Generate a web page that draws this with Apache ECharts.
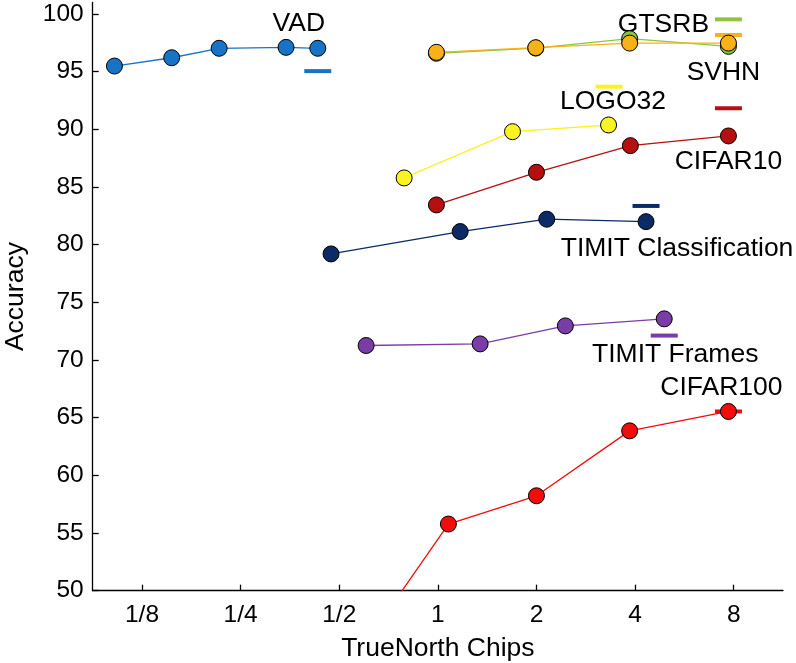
<!DOCTYPE html>
<html>
<head>
<meta charset="utf-8">
<script src="https://cdn.jsdelivr.net/npm/echarts@6/dist/echarts.min.js"></script>
<style>html,body{margin:0;padding:0;background:#fff}#c{width:796px;height:663px}</style>
</head>
<body>
<div id="c"></div>
<script>
// ---- data (TrueNorth chips, accuracy %) ----
const xTicks = [1/8, 1/4, 1/2, 1, 2, 4, 8];
const yTicks = [50, 55, 60, 65, 70, 75, 80, 85, 90, 95, 100];

const seriesNames = ['VAD', 'GTSRB', 'SVHN', 'LOGO32', 'CIFAR10', 'TIMIT Classification', 'TIMIT Frames', 'CIFAR100'];

const chipsVAD = [0.103, 0.154, 0.215, 0.344, 0.43];
const accVAD   = [95.49, 96.21, 97.03, 97.11, 97.03];

const chipsGTSRB = [0.99, 1.99, 3.85, 7.71];
const accGTSRB   = [96.60, 97.05, 97.86, 97.20];

const chipsSVHN = [0.99, 1.99, 3.85, 7.71];
const accSVHN   = [96.68, 97.08, 97.48, 97.48];

const chipsLOGO32 = [0.789, 1.69, 3.32];
const accLOGO32   = [85.79, 89.80, 90.38];

const chipsCIFAR10 = [0.99, 2.0, 3.87, 7.71];
const accCIFAR10   = [83.45, 86.28, 88.59, 89.43];

const chipsTIMITC = [0.472, 1.17, 2.15, 4.32];
const accTIMITC   = [79.2, 81.14, 82.21, 82.0];

const chipsTIMITF = [0.604, 1.346, 2.45, 4.91];
const accTIMITF   = [71.26, 71.40, 72.96, 73.57];

const chipsCIFAR100 = [0.6, 1.077, 2.0, 3.85, 7.71];
const accCIFAR100   = [45.4, 55.78, 58.23, 63.86, 65.54];

// reference (state of the art) accuracy dashes
const refChips = [0.43, 7.71, 7.71, 3.33, 7.71, 4.32, 4.91, 7.71];
const refAcc   = [95.05, 99.54, 98.18, 93.70, 91.83, 83.36, 72.12, 65.54];

// ---- styles ----
const colors = ['#1873c4', '#8cc640', '#f8b119', '#faf323', '#b5100f', '#0b2a66', '#7a3ca6', '#f20c0c'];
const labelOffsets = [[-19, -47], [-65, 5], [-5, 38], [4, 15], [0, 53], [31, 43], [11, 19], [-7, -24]];

const chipsAll = [chipsVAD, chipsGTSRB, chipsSVHN, chipsLOGO32, chipsCIFAR10, chipsTIMITC, chipsTIMITF, chipsCIFAR100];
const accAll = [accVAD, accGTSRB, accSVHN, accLOGO32, accCIFAR10, accTIMITC, accTIMITF, accCIFAR100];

const FONT = '"Liberation Sans", Arial, Helvetica, sans-serif';
const lg = v => Math.log2(v);

const series = [];
// reference dashes with labels (drawn under the lines)
seriesNames.forEach((n, i) => {
  series.push({
    type: 'scatter',
    name: n + ' ref',
    z: 1,
    symbol: 'rect',
    symbolSize: [27, 4],
    itemStyle: { color: colors[i], opacity: 1 },
    silent: true,
    data: [[lg(refChips[i]), refAcc[i]]],
    label: {
      show: true,
      position: 'inside',
      offset: labelOffsets[i],
      formatter: n,
      color: '#000',
      textBorderWidth: 0,
      fontFamily: FONT,
      fontSize: 26.5
    }
  });
});
seriesNames.forEach((n, i) => {
  series.push({
    type: 'line',
    name: n,
    z: 2 + i,
    clip: true,
    symbol: 'circle',
    symbolSize: 16,
    showAllSymbol: true,
    lineStyle: { color: colors[i], width: 1.3 },
    itemStyle: { color: colors[i], borderColor: '#000', borderWidth: 1, opacity: 1 },
    data: chipsAll[i].map((c, k) => [lg(c), accAll[i][k]])
  });
});

const fracLabel = v => {
  const p = Math.round(v);
  return p < 0 ? '1/' + Math.pow(2, -p) : String(Math.pow(2, p));
};

const chart = echarts.init(document.getElementById('c'), null, { renderer: 'canvas' });
chart.setOption({
  animation: false,
  backgroundColor: '#fff',
  grid: { left: 92.7, right: 13, top: 2.5, bottom: 72.3, containLabel: false, outerBoundsMode: 'none' },
  xAxis: {
    type: 'value',
    min: -3.5,
    max: 3.5,
    name: 'TrueNorth Chips',
    nameLocation: 'middle',
    nameGap: 44,
    nameTextStyle: { color: '#000', fontFamily: FONT, fontSize: 26.5 },
    axisLine: { show: true, onZero: false, lineStyle: { color: '#000', width: 1.3 } },
    axisTick: { show: true, inside: true, length: 6, lineStyle: { color: '#000', width: 1.3 }, customValues: xTicks.map(lg) },
    axisLabel: { color: '#000', fontFamily: FONT, fontSize: 24.5, margin: 12, customValues: xTicks.map(lg), formatter: fracLabel },
    splitLine: { show: false }
  },
  yAxis: {
    type: 'value',
    min: 50,
    max: 101,
    name: 'Accuracy',
    nameLocation: 'middle',
    nameGap: 64,
    nameRotate: 90,
    nameTextStyle: { color: '#000', fontFamily: FONT, fontSize: 26.5 },
    axisLine: { show: true, onZero: false, lineStyle: { color: '#000', width: 1.3 } },
    axisTick: { show: true, inside: true, length: 6, lineStyle: { color: '#000', width: 1.3 }, customValues: yTicks },
    axisLabel: { color: '#000', fontFamily: FONT, fontSize: 24.5, margin: 9, customValues: yTicks },
    splitLine: { show: false }
  },
  series: series
});
</script>
</body>
</html>
